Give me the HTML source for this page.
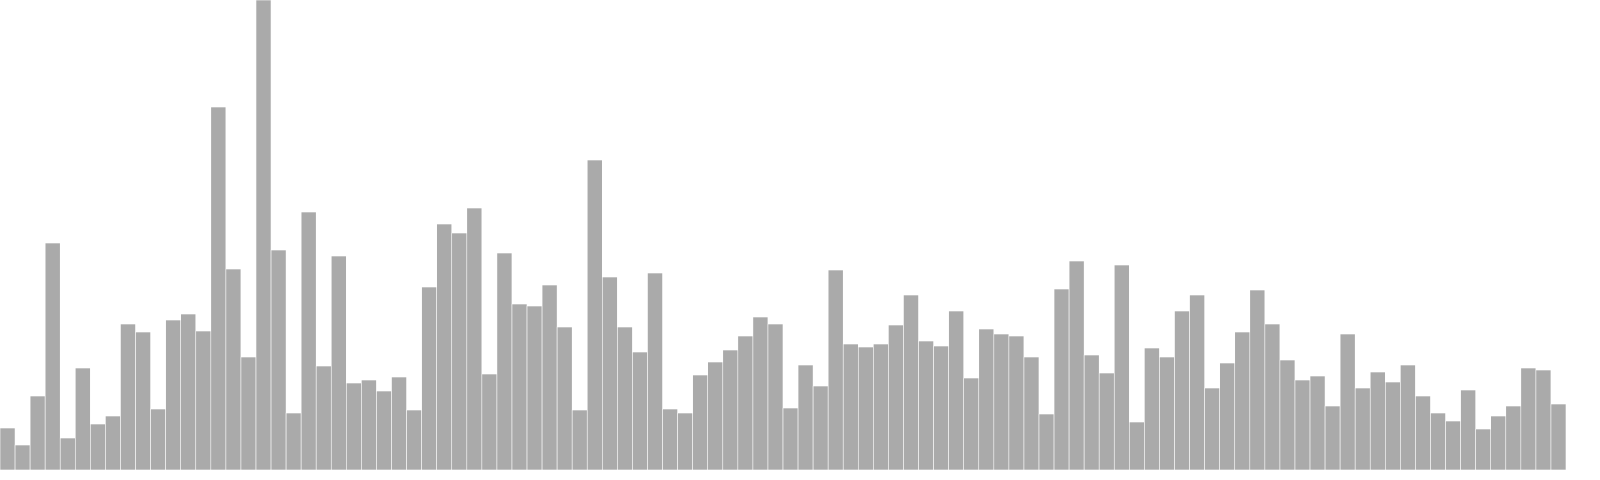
<!DOCTYPE html>
<html><head><meta charset="utf-8"><style>
html,body{margin:0;padding:0;background:#fff;}
svg{display:block;}
</style></head><body>
<svg id="chart" width="1600" height="480" xmlns="http://www.w3.org/2000/svg"></svg>
<script>
const categories = Array.from({length:104},(_,i)=>'b'+i);
const values = [42,25,74,227,32,102,46,54,146,138,61,150,156,139,363,201,113,470,220,57,258,104,214,87,90,79,93,60,183,246,237,262,96,217,166,164,185,143,60,310,193,143,118,197,61,57,95,108,120,134,153,146,62,105,84,200,126,123,126,145,175,129,124,159,92,141,136,134,113,56,181,209,115,97,205,48,122,113,159,175,82,107,138,180,146,110,90,94,64,136,82,98,88,105,74,57,49,80,41,54,64,102,100,66];
const svg = document.getElementById('chart');
const NS = 'http://www.w3.org/2000/svg';
const plotLeft = 0, plotWidth = 1566, baseY = 470, plotHeight = 470;
const maxV = Math.max(...values);
const bw = plotWidth / categories.length;
function xScale(i){ return plotLeft + i * bw; }
function yScale(v){ return baseY - v / maxV * plotHeight; }
values.forEach((v,i)=>{
  const r = document.createElementNS(NS,'rect');
  r.setAttribute('x', xScale(i));
  r.setAttribute('y', yScale(v));
  r.setAttribute('width', bw);
  r.setAttribute('height', baseY - yScale(v));
  r.setAttribute('fill', '#aaaaaa');
  r.setAttribute('stroke', '#ffffff');
  r.setAttribute('stroke-width', '0.6');
  
  
  svg.appendChild(r);
});
</script>
</body></html>
